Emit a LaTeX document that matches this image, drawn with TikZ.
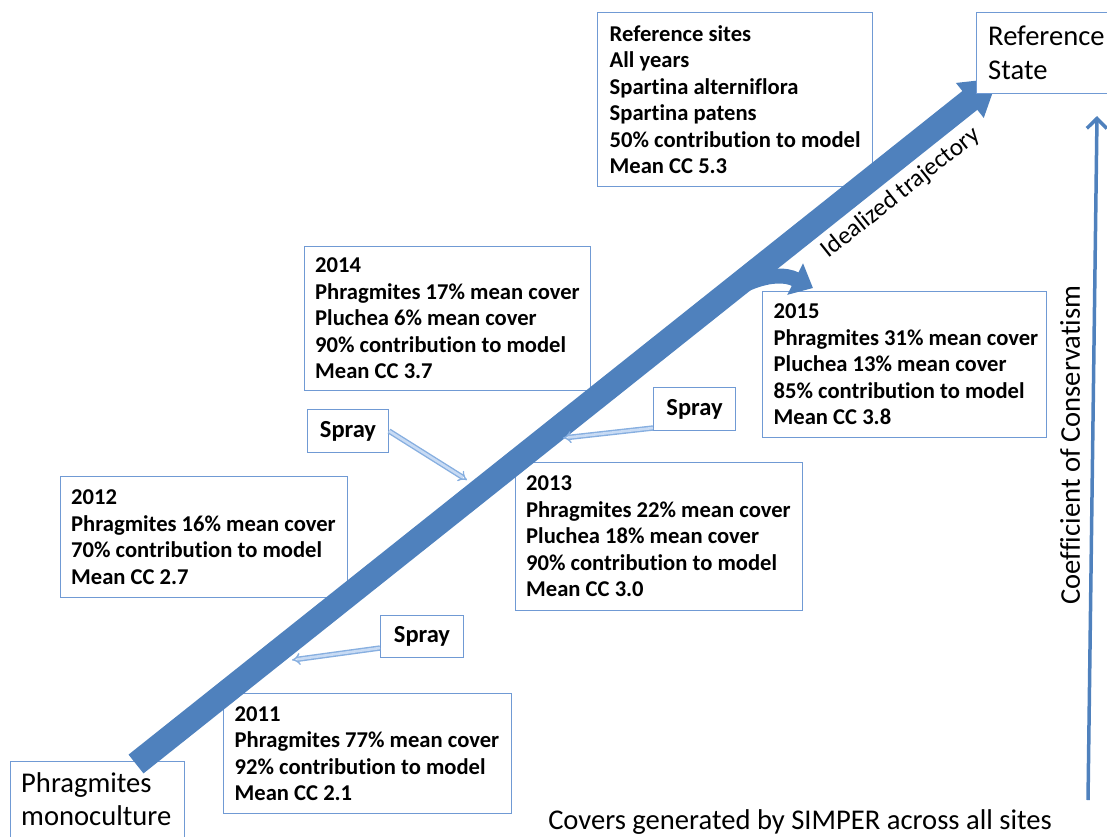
\documentclass[tikz,border=0pt]{standalone}
\usepackage{fontspec}
\setmainfont{Carlito}[Ligatures=NoCommon]
\usetikzlibrary{arrows.meta,calc}
\definecolor{mainblue}{RGB}{79,129,189}
\definecolor{boxblue}{RGB}{112,154,212}
\definecolor{sprayblue}{RGB}{135,175,224}
\definecolor{spraylight}{RGB}{200,219,244}
\begin{document}
\begin{tikzpicture}[x=1pt,y=-1pt,
 frame/.style={draw=boxblue, line width=1pt, fill=white, anchor=north west, inner sep=0pt},
 boxtext/.style={anchor=west, inner sep=0pt, align=left, font=\bfseries\fontsize{22.6}{26.5}\selectfont},
 spraytext/.style={inner sep=0pt, font=\bfseries\fontsize{24.5}{28}\selectfont},
 bigtext/.style={inner sep=0pt, align=left, font=\fontsize{28.6}{33.5}\selectfont},
 sprayarrow/.style={draw=sprayblue, line width=1.4pt, double=spraylight, double distance=2.6pt, -{Implies}},
 mainarrow/.style={draw=mainblue, line width=24pt, -{Triangle[length=36pt,width=42pt]}},
 brancharrow/.style={draw=mainblue, line width=15pt, -{Triangle[length=20pt,width=34pt]}},
 axisarrow/.style={draw=mainblue, line width=3.5pt, -{Straight Barb[length=10pt,width=20pt]}},
]
\useasboundingbox (0,0) rectangle (1107,836);

% text boxes
\node[frame, minimum width=275pt, minimum height=174pt] (ref) at (597,12) {};
\node[boxtext] (reft) at ([xshift=12.5pt]ref.west)
 {Reference sites\\All years\\Spartina alterniflora\\Spartina patens\\50\% contribution to model\\Mean CC 5.3};
\node[frame, minimum width=286pt, minimum height=144pt] (y14) at (304,246) {};
\node[boxtext] (y14t) at ([xshift=11pt]y14.west)
 {2014\\Phragmites 17\% mean cover\\Pluchea 6\% mean cover\\90\% contribution to model\\Mean CC 3.7};
\node[frame, minimum width=284pt, minimum height=146pt] (y15) at (762,291) {};
\node[boxtext] (y15t) at ([xshift=11.5pt]y15.west)
 {2015\\Phragmites 31\% mean cover\\Pluchea 13\% mean cover\\85\% contribution to model\\Mean CC 3.8};
\node[frame, minimum width=287pt, minimum height=121pt] (y12) at (60,476) {};
\node[boxtext] (y12t) at ([xshift=11pt]y12.west)
 {2012\\Phragmites 16\% mean cover\\70\% contribution to model\\Mean CC 2.7};
\node[frame, minimum width=287pt, minimum height=148pt] (y13) at (515,462) {};
\node[boxtext] (y13t) at ([xshift=11pt]y13.west)
 {2013\\Phragmites 22\% mean cover\\Pluchea 18\% mean cover\\90\% contribution to model\\Mean CC 3.0};
\node[frame, minimum width=288pt, minimum height=120pt] (y11) at (223,693) {};
\node[boxtext] (y11t) at ([xshift=11.5pt]y11.west)
 {2011\\Phragmites 77\% mean cover\\92\% contribution to model\\Mean CC 2.1};

\node[frame, minimum width=81pt, minimum height=43pt] (spL) at (307,409) {};
\node[spraytext] at (spL.center) {Spray};
\node[frame, minimum width=82pt, minimum height=43pt] (spR) at (653,387) {};
\node[spraytext] at (spR.center) {Spray};
\node[frame, minimum width=83pt, minimum height=42pt] (spB) at (380,615) {};
\node[spraytext] at (spB.center) {Spray};

\node[frame, minimum width=174pt, minimum height=100pt] (mono) at (10,761) {};
\node[bigtext, anchor=north west] (monot) at ([xshift=11pt,yshift=-11pt]mono.north west) {Phragmites\\monoculture};

% trajectory
\coordinate (start) at (136,764);
\coordinate (tip) at (998,78);
\coordinate (br) at ($(start)!0.665!(tip)$);
\coordinate (b15) at (813,288);
\draw[mainarrow] (start) -- (tip);
\draw[brancharrow] (br) .. controls +(25,-22) and +(-40,-20) .. (b15);

\node[inner sep=0pt, font=\fontsize{25}{30}\selectfont, rotate=38.5] (ideal) at (901,193) {Idealized trajectory};

% spray arrows
\coordinate (t1) at (467,480);
\coordinate (t2) at (563,438);
\coordinate (t3) at (292,660);
\draw[sprayarrow] (spL.east) -- (t1);
\draw[sprayarrow] ([yshift=3pt]spR.south west) -- (t2);
\draw[sprayarrow] ([yshift=10pt]spB.south west) -- (t3);

% reference state box on top of the arrow tip
\node[frame, minimum width=170pt, minimum height=81pt] (rs) at (976,12) {};
\node[bigtext, anchor=west] (rst) at ([xshift=12pt]rs.west) {Reference\\State};

% axis
\coordinate (ax0) at (1088,800);
\coordinate (ax1) at (1097,116);
\draw[axisarrow] (ax0) -- (ax1);
\node[bigtext, rotate=90] (cc) at (1070,445) {Coefficient of Conservatism};

\node[bigtext] (covers) at (800,822) {Covers generated by SIMPER across all sites};
\end{tikzpicture}
\end{document}
